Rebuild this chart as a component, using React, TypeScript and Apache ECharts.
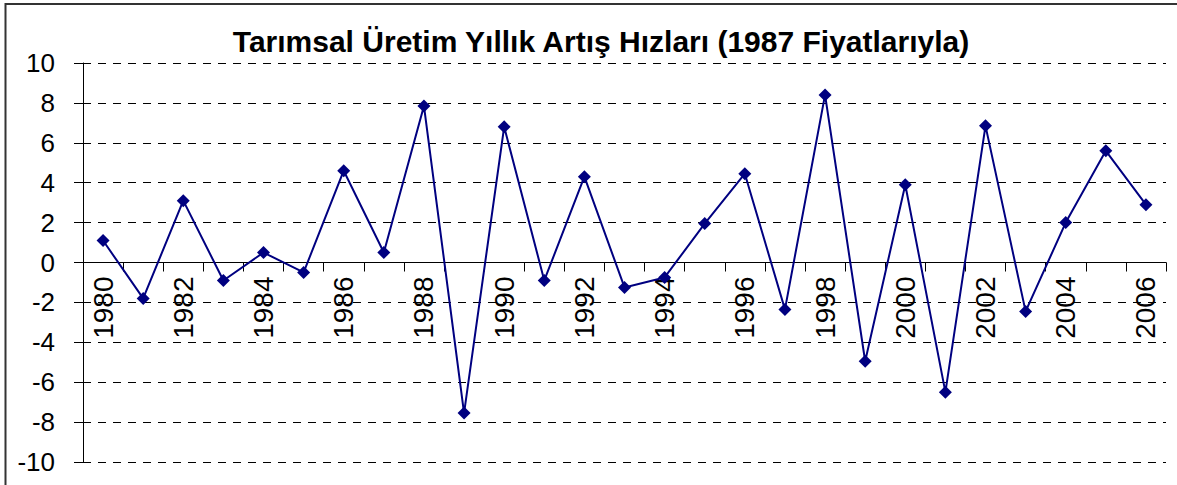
import React, { useEffect, useRef } from "react";
import * as echarts from "echarts";

const years: string[] = [
  "1980", "1981", "1982", "1983", "1984", "1985", "1986", "1987", "1988", "1989",
  "1990", "1991", "1992", "1993", "1994", "1995", "1996", "1997", "1998", "1999",
  "2000", "2001", "2002", "2003", "2004", "2005", "2006",
];

const growthRates: number[] = [
  1.1, -1.8, 3.1, -0.9, 0.5, -0.5, 4.6, 0.5, 7.85, -7.55,
  6.8, -0.9, 4.3, -1.25, -0.75, 1.95, 4.45, -2.35, 8.4, -4.95,
  3.9, -6.5, 6.85, -2.45, 2.0, 5.6, 2.9,
];

const titleText = "Tarımsal Üretim Yıllık Artış Hızları (1987 Fiyatlarıyla)";

export default function App() {
  const ref = useRef<HTMLDivElement>(null);

  useEffect(() => {
    document.body.style.margin = "0";
    if (!ref.current) return;
    const chart = echarts.init(ref.current, null, { renderer: "svg" });
    const font = "Liberation Sans, Arial, sans-serif";
    const gridTop = 63;
    const gridBottom = 23;
    const plotHeight = 485 - gridTop - gridBottom;
    const yMin = -10;
    const yMax = 10;
    const zeroOffset = -(plotHeight * (0 - yMin)) / (yMax - yMin);
    chart.setOption({
      animation: false,
      backgroundColor: "#ffffff",
      textStyle: { fontFamily: font },
      title: {
        text: titleText,
        left: 596,
        textAlign: "center",
        top: 21,
        textStyle: {
          fontFamily: font,
          fontSize: 30,
          fontWeight: "bold",
          color: "#000000",
        },
      },
      graphic: [
        {
          type: "rect",
          shape: { x: 5.5, y: 4, width: 1190, height: 500 },
          style: { fill: "none", stroke: "#333333", lineWidth: 2 },
          silent: true,
          z: 100,
        },
      ],
      grid: {
        left: 83,
        right: 11,
        top: gridTop,
        bottom: gridBottom,
        containLabel: false,
        outerBoundsMode: "none",
      },
      xAxis: {
        type: "category",
        data: years,
        boundaryGap: true,
        position: "bottom",
        offset: zeroOffset,
        axisLine: { show: true, onZero: false, lineStyle: { color: "#000000", width: 1 } },
        axisTick: {
          show: true,
          interval: 0,
          length: 9,
          inside: false,
          lineStyle: { color: "#000000", width: 1 },
        },
        axisLabel: {
          interval: 1,
          rotate: 90,
          margin: 14,
          fontSize: 28,
          fontFamily: font,
          color: "#000000",
        },
        splitLine: { show: false },
      },
      yAxis: {
        type: "value",
        min: yMin,
        max: yMax,
        interval: 2,
        axisLine: { show: true, lineStyle: { color: "#000000", width: 1 } },
        axisTick: { show: true, length: 9, lineStyle: { color: "#000000", width: 1 } },
        axisLabel: {
          fontSize: 26,
          fontFamily: font,
          color: "#000000",
          margin: 28,
        },
        splitLine: {
          show: true,
          lineStyle: { color: "#000000", width: 1, type: [8, 7] },
        },
      },
      series: [
        {
          type: "line",
          data: growthRates,
          symbol: "diamond",
          symbolSize: 13,
          itemStyle: { color: "#000080" },
          lineStyle: { color: "#000080", width: 2 },
          z: 5,
        },
      ],
    });
    return () => chart.dispose();
  }, []);

  return <div ref={ref} style={{ width: 1177, height: 485 }} />;
}
